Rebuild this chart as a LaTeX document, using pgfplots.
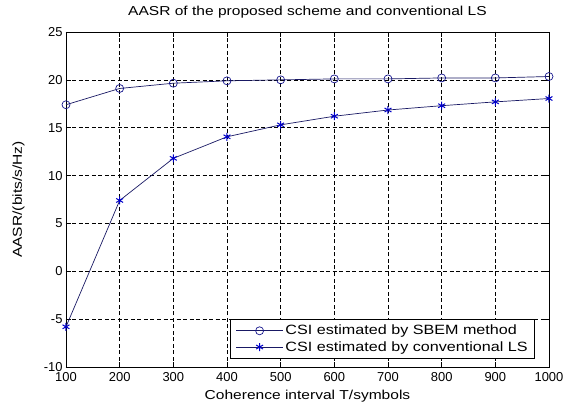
\documentclass[border=0pt]{standalone}
\usepackage{fontspec}
\setmainfont{Liberation Sans}
\newfontfamily\widefont[FakeStretch=1.2]{Liberation Sans}
\usepackage{pgfplots}
\pgfplotsset{compat=1.18}
\definecolor{mlline}{RGB}{25,25,100}
\definecolor{mlmark}{RGB}{0,0,200}
\definecolor{mlcirc}{RGB}{20,20,140}

\begin{document}
\begin{tikzpicture}
\path[use as bounding box] (-66bp,-37bp) rectangle (498bp,367bp);
\begin{axis}[
  at={(0,0)}, anchor=south west,
  scale only axis,
  width=483bp, height=335bp,
  xmin=100, xmax=1000, ymin=-10, ymax=25,
  xtick={100,200,...,1000}, ytick={-10,-5,...,25},
  tick align=inside, major tick length=5bp,
  xtick pos=both, ytick pos=both,
  grid=major,
  major grid style={black, line width=0.6bp, dash pattern=on 4bp off 2.5bp},
  axis line style={black, line width=0.8bp},
  tick style={black, line width=0.6bp},
  font=\fontsize{13}{15}\selectfont,
  /pgf/number format/assume math mode=true,
  scaled ticks=false,
  /pgf/number format/set thousands separator={},
  xticklabel style={yshift=-2bp},
  title={AASR of the proposed scheme and conventional LS},
  title style={at={(axis description cs:0.5,1)}, anchor=base, yshift=11bp,
    font=\widefont\fontsize{13}{15}\selectfont},
  xlabel={Coherence interval T/symbols},
  xlabel style={at={(axis description cs:0.5,0)}, anchor=base, yshift=-32bp,
    font=\widefont\fontsize{13}{15}\selectfont},
  ylabel={AASR/(bits/s/Hz)},
  ylabel style={at={([xshift=-44bp]axis description cs:0,0.5)}, anchor=base,
    font=\widefont\fontsize{13}{15}\selectfont},
  legend style={at={(0.971,0.024)}, anchor=south east, draw=black,
    line width=0.6bp, font=\widefont\fontsize{13.5}{15}\selectfont,
    inner xsep=5bp, inner ysep=4bp, row sep=1bp,
    nodes={inner sep=2bp}},
  legend cell align=left,
  legend image code/.code={
    \draw[#1] (0bp,0bp) -- (47bp,0bp);
    \draw[#1, mark repeat=2, mark phase=2] plot coordinates {(0bp,0bp) (23.5bp,0bp) (47bp,0bp)};
  },
]
\addplot[color=mlline, line width=0.7bp, mark=o, mark size=4bp,
  mark options={solid, draw=mlcirc, line width=0.7bp}]
  coordinates {(100,17.4) (200,19.1) (300,19.65) (400,19.9) (500,20.0)
    (600,20.1) (700,20.1) (800,20.2) (900,20.2) (1000,20.35)};
\addlegendentry{CSI estimated by SBEM method}
\addplot[color=mlline, line width=0.7bp, mark=asterisk, mark size=4bp,
  mark options={solid, draw=mlmark, line width=1bp}]
  coordinates {(100,-5.8) (200,7.4) (300,11.8) (400,14.05) (500,15.3)
    (600,16.2) (700,16.85) (800,17.3) (900,17.7) (1000,18.05)};
\addlegendentry{CSI estimated by conventional LS}
\end{axis}
\end{tikzpicture}
\end{document}
